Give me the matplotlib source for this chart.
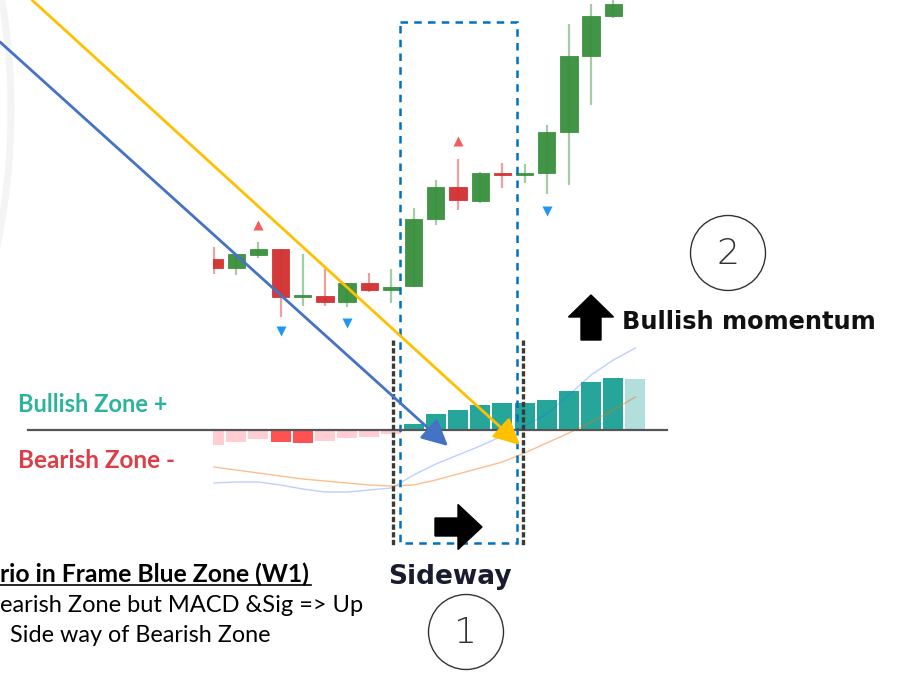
import numpy as np
import matplotlib.pyplot as plt
from matplotlib.patches import Circle, Rectangle, FancyArrow

# candles, oldest first (price units)
opens  = [141, 132, 145, 151, 103, 104,  98, 117, 110, 114, 181, 213, 199, 227, 225, 227, 268, 344, 384]
highs  = [153, 146, 158, 151, 146, 131, 117, 127, 131, 192, 220, 241, 228, 237, 236, 275, 376, 396, 400]
lows   = [126, 125, 142,  83,  94,  94,  93, 108,  97, 113, 175, 190, 197, 212, 217, 206, 215, 295, 382]
closes = [132, 146, 151, 103, 105,  98, 117, 110, 113, 181, 213, 200, 227, 225, 227, 268, 344, 384, 396]

# signal markers
sell_idx = [2, 11]
sell_px = [175, 259]
buy_idx = [3, 6, 15]
buy_px = [69, 77, 189]

# MACD panel
hist = [-1.5, -1.2, -0.9, -1.2, -1.3, -1.1, -0.8, -0.7, -0.4, 0.6,
        1.6, 2.0, 2.5, 2.7, 2.7, 3.0, 3.9, 4.8, 5.2, 5.1]
hist_colors = ['#ffcdd2'] * 3 + ['#ff5252'] * 2 + ['#ffcdd2'] * 4 + ['#26a69a'] * 10 + ['#b2dfdb']
macd = [-5.3, -5.2, -5.2, -5.5, -5.9, -6.2, -6.2, -6.0, -5.8, -4.5,
        -3.4, -2.5, -1.6, -0.6, 0.4, 1.6, 3.5, 5.5, 7.0, 8.2]
signal = [-3.7, -4.0, -4.3, -4.6, -4.9, -5.1, -5.3, -5.5, -5.6, -5.5,
          -5.0, -4.4, -3.8, -3.2, -2.3, -1.3, -0.3, 0.8, 2.0, 3.3]

# notes (as visible in the cropped screenshot)
note_title = 'rio in Frame Blue Zone (W1)'
note_lines = ['earish Zone but MACD &Sig => Up', 'Side way of Bearish Zone']

W, H = 897, 678
fig = plt.figure(figsize=(W / 100, H / 100), dpi=100)
fig.patch.set_facecolor('white')

# chart area (cropped screenshot starts at x=213)
pos = [213 / W, 0, (700 - 213) / W, 1]
step = 22.18
xlim = (-1 / step, (700 - 214) / step)

ax_c = fig.add_axes(pos)
ax_c.set_xlim(xlim)
ax_c.set_ylim(-278, 400)
ax_c.axis('off')

x = np.arange(len(opens))
for i in x:
    up = closes[i] >= opens[i]
    col = '#388e3c' if up else '#d32f2f'
    ax_c.vlines(i, lows[i], highs[i], color=col, alpha=0.45, lw=1.6)
    body = closes[i] - opens[i]
    if abs(body) < 2:
        body = 2 if up else -2
    ax_c.bar(i, body, bottom=opens[i], width=0.78, color=col,
             edgecolor=col, linewidth=0.6, alpha=0.95)

ax_c.plot(sell_idx, sell_px, '^', color='#f45b5b', ms=7.5, mec='none')
ax_c.plot(buy_idx, buy_px, 'v', color='#2196f3', ms=7.5, mec='none')

ax_m = fig.add_axes(pos)
ax_m.set_xlim(xlim)
ax_m.set_ylim(-24.8, 43.0)
ax_m.axis('off')
xm = np.arange(len(hist))
ax_m.bar(xm, hist, width=0.9, color=hist_colors, bottom=0)
ax_m.plot(xm, macd, color='#2962ff', alpha=0.3, lw=1)
ax_m.plot(xm, signal, color='#ff6d00', alpha=0.45, lw=1)

# annotation layer in pixel coordinates
ax = fig.add_axes([0, 0, 1, 1])
ax.set_xlim(0, W)
ax.set_ylim(H, 0)
ax.axis('off')

ax.add_patch(Circle((-661, 110), 672, fill=False, ec='#f4f4f4', lw=5))

ax.plot([28, 667], [430, 430], color='#555555', lw=1.6)

ax.add_patch(Rectangle((400, 22), 117, 521, fill=False, ec='#0070c0',
                       lw=1.8, ls=(0, (3, 2.5))))
for xv in [393, 523]:
    ax.plot([xv, xv], [340, 547], color='#3a3a3a', lw=2.4, ls=(0, (1.6, 0.7)))

ax.annotate('', xy=(520, 445), xytext=(32, 0),
            arrowprops=dict(arrowstyle='-|>,head_length=0.8,head_width=0.4',
                            mutation_scale=20, lw=2, color='#ffc000',
                            shrinkA=0, shrinkB=0))
ax.annotate('', xy=(448, 446), xytext=(0, 42),
            arrowprops=dict(arrowstyle='-|>,head_length=0.8,head_width=0.4',
                            mutation_scale=20, lw=2, color='#4472c4',
                            shrinkA=0, shrinkB=0))

# block arrows
ax.add_patch(FancyArrow(435, 527, 47, 0, width=18, head_width=45, head_length=24,
                        length_includes_head=True, color='black'))
ax.add_patch(FancyArrow(591, 340, 0, -45, width=20, head_width=45, head_length=22,
                        length_includes_head=True, color='black'))

ax.text(622, 322, 'Bullish momentum', ha='left', va='center', fontsize=17.3,
        fontweight='bold', color='#111111')
ax.text(450, 577, 'Sideway', ha='center', va='center', fontsize=19,
        fontweight='bold', color='#1b1b2f')
ax.text(18, 405, 'Bullish Zone +', ha='left', va='center', fontsize=17,
        fontweight='bold', family='Lato', color='#2bb39c')
ax.text(18, 461, 'Bearish Zone -', ha='left', va='center', fontsize=17.5,
        fontweight='bold', family='Lato', color='#dc3d46')

for (cx, cy), label in [((728, 253), '2'), ((466, 632), '1')]:
    ax.add_patch(Circle((cx, cy), 37.5, fill=False, ec='#333333', lw=1))
    ax.text(cx, cy + 1, label, ha='center', va='center', fontsize=26,
            fontweight='light', color='#333333')

ax.text(0, 574, note_title, ha='left', va='center',
        fontsize=17.8, fontweight='bold', family='Lato', color='black')
ax.plot([0, 311], [585, 585], color='black', lw=1.2)
ax.text(0, 605, note_lines[0], ha='left', va='center',
        fontsize=17, family='Lato', color='black')
ax.text(10, 635, note_lines[1], ha='left', va='center',
        fontsize=16.8, family='Lato', color='black')

fig.savefig('out.png', dpi=100)
